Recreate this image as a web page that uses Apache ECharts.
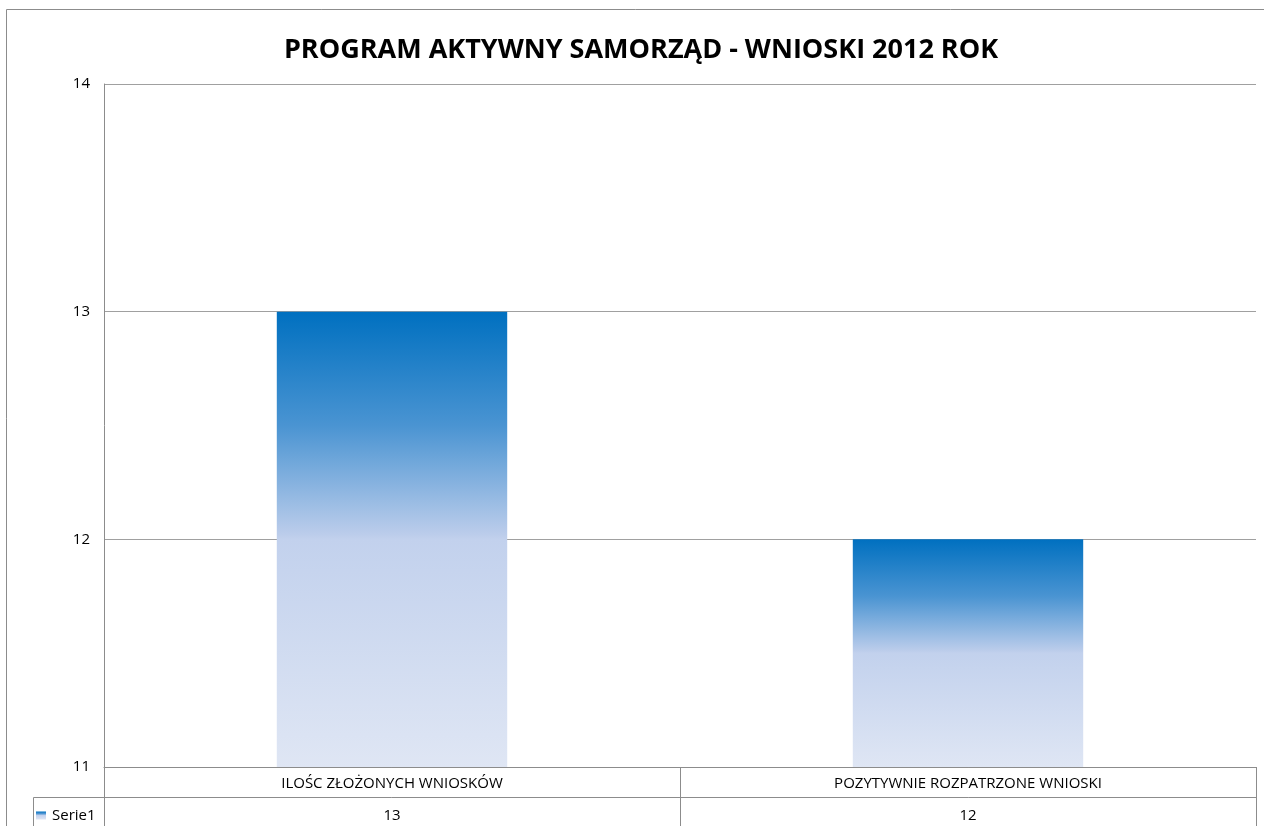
<!DOCTYPE html>
<html>
<head>
<meta charset="utf-8">
<script src="https://cdn.jsdelivr.net/npm/echarts@6/dist/echarts.min.js"></script>
<style>
  html, body { margin: 0; padding: 0; background: #fff; }
  #chart { width: 1264px; height: 826px; }
</style>
</head>
<body>
<div id="chart"></div>
<script>
const categories = ["ILOŚC ZŁOŻONYCH WNIOSKÓW", "POZYTYWNIE ROZPATRZONE WNIOSKI"];
const serieName = "Serie1";
const serieValues = [13, 12];
const yTicks = [11, 12, 13, 14];

const chart = echarts.init(document.getElementById("chart"));
const font = "Open Sans";
const lineColor = "#8c8c8c";

const barFill = new echarts.graphic.LinearGradient(0, 0, 0, 1, [
  { offset: 0, color: "#0070c0" },
  { offset: 0.25, color: "#4a94d2" },
  { offset: 0.49, color: "#bccdeb" },
  { offset: 0.5, color: "#c2d1ed" },
  { offset: 1, color: "#dfe6f4" }
]);

const option = {
  animation: false,
  backgroundColor: "#fff",
  title: {
    text: "PROGRAM AKTYWNY SAMORZĄD - WNIOSKI 2012 ROK",
    left: 636,
    top: 32,
    textAlign: "center",
    textStyle: { fontFamily: font, fontWeight: "bold", fontSize: 27, color: "#000" }
  },
  legend: {
    left: 36,
    top: 808,
    padding: 0,
    itemWidth: 10,
    itemHeight: 8,
    itemGap: 0,
    icon: "rect",
    data: [serieName],
    textStyle: { fontFamily: font, fontSize: 15, color: "#000", padding: [0, 0, 0, 1] }
  },
  grid: { left: 104, right: 8, top: 84, bottom: 59, containLabel: false },
  xAxis: [
    {
      type: "category",
      data: categories,
      axisLine: { show: true, lineStyle: { color: lineColor } },
      axisTick: { show: true, alignWithLabel: false, interval: 0, length: 59, lineStyle: { color: lineColor } },
      axisLabel: { interval: 0, margin: 9, fontFamily: font, fontSize: 15, color: "#000" },
      splitLine: { show: false }
    },
    {
      type: "category",
      position: "bottom",
      offset: 30,
      data: serieValues.map(String),
      axisLine: { show: true, lineStyle: { color: lineColor } },
      axisTick: { show: false },
      axisLabel: { interval: 0, margin: 11, fontFamily: font, fontSize: 15, color: "#000" },
      splitLine: { show: false }
    }
  ],
  yAxis: {
    type: "value",
    min: yTicks[0],
    max: yTicks[yTicks.length - 1],
    interval: 1,
    axisLine: { show: true, lineStyle: { color: lineColor } },
    axisTick: { show: false },
    axisLabel: { margin: 14, fontFamily: font, fontSize: 15, color: "#000" },
    splitLine: { show: true, lineStyle: { color: "#a0a0a0" } }
  },
  series: [
    {
      name: serieName,
      type: "bar",
      xAxisIndex: 0,
      barWidth: "40%",
      data: serieValues,
      itemStyle: { color: barFill }
    }
  ],
  graphic: [
    {
      type: "rect",
      silent: true,
      z: -1,
      shape: { x: 6.5, y: 9.5, width: 1400, height: 1000 },
      style: { fill: null, stroke: lineColor, lineWidth: 1 }
    },
    {
      type: "polyline",
      silent: true,
      shape: { points: [[104, 797.5], [33.5, 797.5], [33.5, 830]] },
      style: { fill: null, stroke: lineColor, lineWidth: 1 }
    }
  ]
};

chart.setOption(option);
</script>
</body>
</html>
